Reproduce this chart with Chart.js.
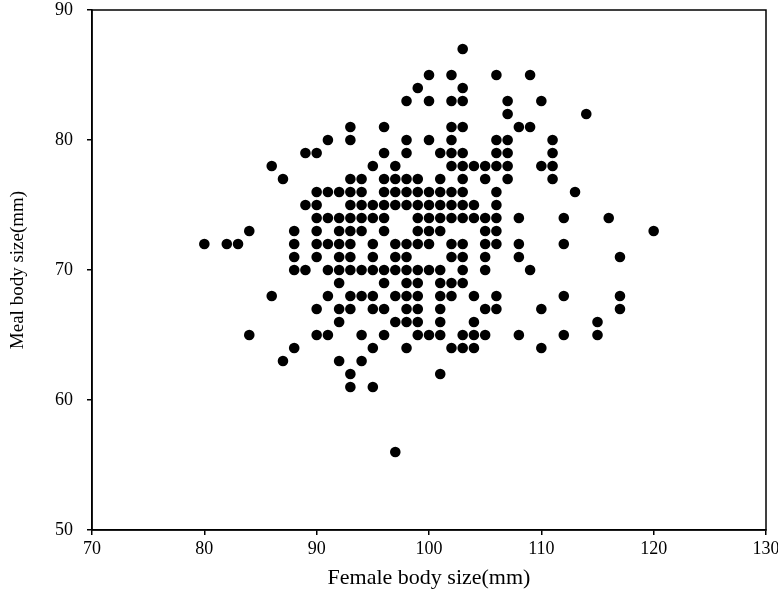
<!DOCTYPE html>
<html>
<head>
<meta charset="utf-8">
<script src="https://cdn.jsdelivr.net/npm/chart.js@4.4.0/dist/chart.umd.min.js"></script>
<style>
  html, body { margin: 0; padding: 0; background: #fff; }
</style>
</head>
<body>
<canvas id="grafico" width="778" height="595"></canvas>
<script>
// Dados (um ponto por par x/y, agrupados por linha de y)
const femaleSize = [
  103,
  100, 102, 106, 109,
  99, 103,
  98, 100, 102, 103, 107, 110,
  107, 114,
  93, 96, 102, 103, 108, 109,
  91, 93, 98, 100, 102, 106, 107, 111,
  89, 90, 96, 98, 101, 102, 103, 106, 107, 111,
  86, 95, 97, 102, 103, 104, 105, 106, 107, 110, 111,
  87, 93, 94, 96, 97, 98, 99, 101, 103, 105, 107, 111,
  90, 91, 92, 93, 94, 96, 97, 98, 99, 100, 101, 102, 103, 106, 113,
  89, 90, 93, 94, 95, 96, 97, 98, 99, 100, 101, 102, 103, 104, 106,
  90, 91, 92, 93, 94, 95, 96, 99, 100, 101, 102, 103, 104, 105, 106, 108, 112, 116,
  84, 88, 90, 92, 93, 94, 96, 99, 100, 101, 105, 106, 120,
  80, 82, 83, 88, 90, 91, 92, 93, 95, 97, 98, 99, 100, 102, 103, 105, 106, 108, 112,
  88, 90, 92, 93, 95, 97, 98, 102, 103, 105, 108, 117,
  88, 89, 91, 92, 93, 94, 95, 96, 97, 98, 99, 100, 101, 103, 105, 109,
  92, 96, 98, 99, 101, 102, 103,
  86, 91, 93, 94, 95, 97, 98, 99, 101, 102, 104, 106, 112, 117,
  90, 92, 93, 95, 96, 98, 99, 101, 105, 106, 110, 117,
  92, 97, 98, 99, 101, 104, 115,
  84, 90, 91, 94, 96, 99, 100, 101, 103, 104, 105, 108, 112, 115,
  88, 95, 98, 102, 103, 104, 110,
  87, 92, 94,
  93, 101,
  93, 95,
  97
];
const mealSize = [
  87,
  85, 85, 85, 85,
  84, 84,
  83, 83, 83, 83, 83, 83,
  82, 82,
  81, 81, 81, 81, 81, 81,
  80, 80, 80, 80, 80, 80, 80, 80,
  79, 79, 79, 79, 79, 79, 79, 79, 79, 79,
  78, 78, 78, 78, 78, 78, 78, 78, 78, 78, 78,
  77, 77, 77, 77, 77, 77, 77, 77, 77, 77, 77, 77,
  76, 76, 76, 76, 76, 76, 76, 76, 76, 76, 76, 76, 76, 76, 76,
  75, 75, 75, 75, 75, 75, 75, 75, 75, 75, 75, 75, 75, 75, 75,
  74, 74, 74, 74, 74, 74, 74, 74, 74, 74, 74, 74, 74, 74, 74, 74, 74, 74,
  73, 73, 73, 73, 73, 73, 73, 73, 73, 73, 73, 73, 73,
  72, 72, 72, 72, 72, 72, 72, 72, 72, 72, 72, 72, 72, 72, 72, 72, 72, 72, 72,
  71, 71, 71, 71, 71, 71, 71, 71, 71, 71, 71, 71,
  70, 70, 70, 70, 70, 70, 70, 70, 70, 70, 70, 70, 70, 70, 70, 70,
  69, 69, 69, 69, 69, 69, 69,
  68, 68, 68, 68, 68, 68, 68, 68, 68, 68, 68, 68, 68, 68,
  67, 67, 67, 67, 67, 67, 67, 67, 67, 67, 67, 67,
  66, 66, 66, 66, 66, 66, 66,
  65, 65, 65, 65, 65, 65, 65, 65, 65, 65, 65, 65, 65, 65,
  64, 64, 64, 64, 64, 64, 64,
  63, 63, 63,
  62, 62,
  61, 61,
  56
];
const xTicks = [70, 80, 90, 100, 110, 120, 130];
const yTicks = [50, 60, 70, 80, 90];

const fonte = 'Liberation Serif, Times New Roman, serif';

// Moldura em volta da área do gráfico
const moldura = {
  id: 'moldura',
  afterDatasetsDraw(chart) {
    const { ctx, chartArea: a } = chart;
    ctx.save();
    ctx.strokeStyle = '#000';
    ctx.lineWidth = 1.5;
    ctx.strokeRect(a.left, a.top, a.right - a.left, a.bottom - a.top);
    ctx.restore();
  }
};

const pontos = femaleSize.map((x, i) => ({ x: x, y: mealSize[i] }));

new Chart(document.getElementById('grafico').getContext('2d'), {
  type: 'scatter',
  data: {
    datasets: [{
      data: pontos,
      backgroundColor: '#000',
      borderWidth: 0,
      pointRadius: 5.3,
      pointHoverRadius: 5.3
    }]
  },
  options: {
    responsive: false,
    animation: false,
    layout: { padding: { left: 0, right: 12, top: 10, bottom: 0 } },
    plugins: { legend: { display: false }, tooltip: { enabled: false } },
    scales: {
      x: {
        type: 'linear',
        min: 70,
        max: 130,
        afterBuildTicks: s => { s.ticks = xTicks.map(v => ({ value: v })); },
        afterFit: s => { s.height = 65; s.paddingLeft = 0; s.paddingRight = 0; },
        grid: { drawOnChartArea: false, drawTicks: true, tickLength: 5, color: '#000', lineWidth: 1.5 },
        border: { display: true, color: '#000', width: 1.5 },
        ticks: { color: '#000', padding: 3, font: { family: fonte, size: 18 } },
        title: { display: true, text: 'Female body size(mm)', color: '#000', font: { family: fonte, size: 22 }, padding: { top: 0, bottom: 4 } }
      },
      y: {
        type: 'linear',
        min: 50,
        max: 90,
        afterBuildTicks: s => { s.ticks = yTicks.map(v => ({ value: v })); },
        afterFit: s => { s.width = 92; s.paddingTop = 0; s.paddingBottom = 0; },
        grid: { drawOnChartArea: false, drawTicks: true, tickLength: 5, color: '#000', lineWidth: 1.5 },
        border: { display: true, color: '#000', width: 1.5 },
        ticks: { color: '#000', padding: 14, font: { family: fonte, size: 18 } },
        title: { display: true, text: 'Meal body size(mm)', color: '#000', font: { family: fonte, size: 19 }, padding: { top: 7, bottom: 0 } }
      }
    }
  },
  plugins: [moldura]
});
</script>
</body>
</html>
